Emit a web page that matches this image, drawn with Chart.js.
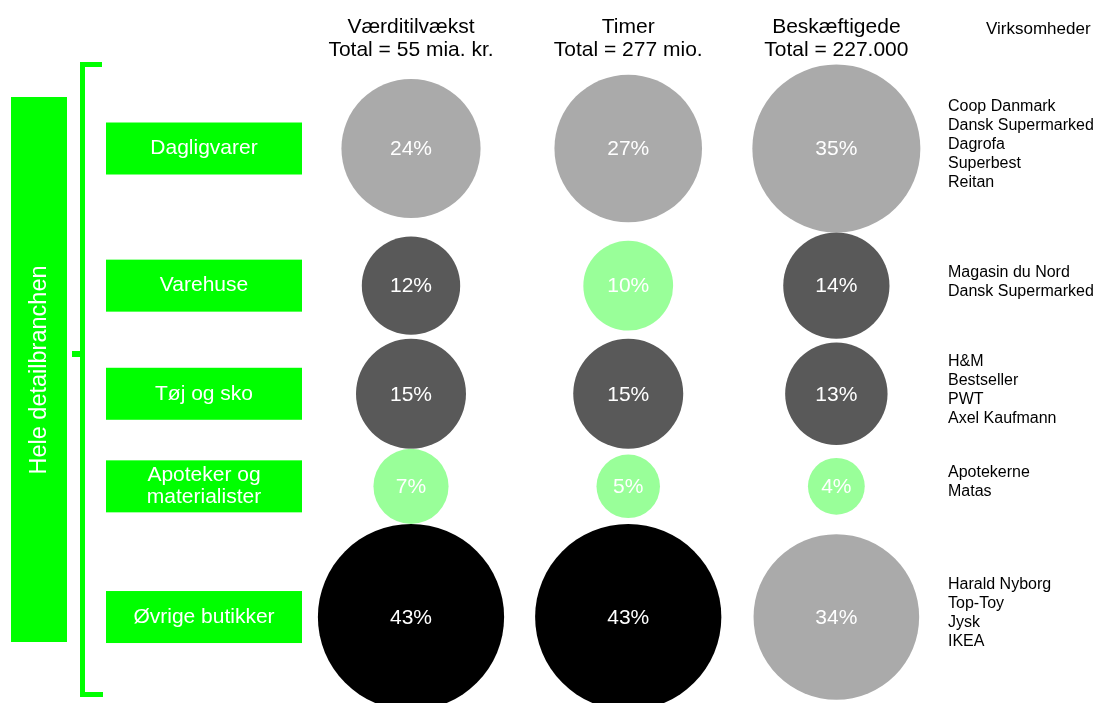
<!DOCTYPE html>
<html>
<head>
<meta charset="utf-8">
<script src="https://cdn.jsdelivr.net/npm/chart.js@4.4.1/dist/chart.umd.min.js"></script>
<style>
  html, body { margin: 0; padding: 0; background: #fff; }
  #wrap { width: 1096px; height: 703px; }
</style>
</head>
<body>
<div id="wrap"><canvas id="bubbles" width="1096" height="703"></canvas></div>
<script>
// rows: retail segments, columns: measures
const segments = ['Dagligvarer', 'Varehuse', 'Tøj og sko', 'Apoteker og\nmaterialister', 'Øvrige butikker'];
const measures = ['Værditilvækst', 'Timer', 'Beskæftigede'];
const measureTotals = ['Total = 55 mia. kr.', 'Total = 277 mio.', 'Total = 227.000'];

// share of the whole retail sector, in percent
const vaerditilvaekst = [24, 12, 15, 7, 43];
const timer = [27, 10, 15, 5, 43];
const beskaeftigede = [35, 14, 13, 4, 34];

// shade group of each bubble
const shadesVaerdi = ['light', 'dark', 'dark', 'green', 'black'];
const shadesTimer = ['light', 'green', 'dark', 'green', 'black'];
const shadesBeskaef = ['light', 'dark', 'dark', 'green', 'light'];

const companies = [
  ['Coop Danmark', 'Dansk Supermarked', 'Dagrofa', 'Superbest', 'Reitan'],
  ['Magasin du Nord', 'Dansk Supermarked'],
  ['H&M', 'Bestseller', 'PWT', 'Axel Kaufmann'],
  ['Apotekerne', 'Matas'],
  ['Harald Nyborg', 'Top-Toy', 'Jysk', 'IKEA']
];
const groupLabel = 'Hele detailbranchen';
const companyHeader = 'Virksomheder';

// ---- styling ----
const SHADE = { light: '#aaaaaa', dark: '#595959', green: '#99ff99', black: '#000000' };
const GREEN = '#00ff00';
const FONT = 'Arial, "Liberation Sans", sans-serif';
const K = 14.2; // radius px per sqrt(percent), so area follows the share

const series = [vaerditilvaekst, timer, beskaeftigede];
const shades = [shadesVaerdi, shadesTimer, shadesBeskaef];
const radius = v => K * Math.sqrt(v);

// rows are stacked so the biggest bubbles of neighbouring rows just touch
const rowMax = segments.map((_, i) => Math.max(...series.map(s => radius(s[i]))));
const rowY = [];
let rowTop = 64.5;
rowMax.forEach(r => { rowY.push(rowTop + r); rowTop += 2 * r; });

// columns likewise, with a fixed gap between them
const colMax = series.map(s => Math.max(...s.map(radius)));
const colX = [];
let colLeft = 411 - colMax[0];
colMax.forEach(r => { colX.push(colLeft + r); colLeft += 2 * r + 31; });

const datasets = series.map((values, c) => ({
  label: measures[c],
  data: values.map((v, i) => ({ x: colX[c], y: rowY[i], r: radius(v), v: v })),
  backgroundColor: shades[c].map(s => SHADE[s]),
  hoverBackgroundColor: shades[c].map(s => SHADE[s]),
  borderWidth: 0,
  hoverBorderWidth: 0,
  hoverRadius: 0,
  clip: false
}));

const decor = {
  id: 'decor',
  beforeDatasetsDraw(chart) {
    const ctx = chart.ctx;
    const xs = chart.scales.x, ys = chart.scales.y;
    ctx.save();
    ctx.fillStyle = GREEN;

    // vertical box for the whole sector
    ctx.fillRect(11, 97, 56, 545);
    ctx.save();
    ctx.translate(40, 370);
    ctx.rotate(-Math.PI / 2);
    ctx.fillStyle = '#ffffff';
    ctx.font = '23.5px ' + FONT;
    ctx.textAlign = 'center';
    ctx.textBaseline = 'middle';
    ctx.fillText(groupLabel, 0, 0);
    ctx.restore();

    // bracket
    ctx.fillRect(80, 62, 5, 635);
    ctx.fillRect(80, 62, 22, 5);
    ctx.fillRect(80, 692, 23, 5);
    ctx.fillRect(72, 351, 8, 6);

    // segment boxes
    ctx.font = '21px ' + FONT;
    ctx.textAlign = 'center';
    ctx.textBaseline = 'middle';
    segments.forEach((name, i) => {
      const cy = ys.getPixelForValue(rowY[i]);
      ctx.fillStyle = GREEN;
      ctx.fillRect(106, cy - 26, 196, 52);
      ctx.fillStyle = '#ffffff';
      const lines = name.split('\n');
      lines.forEach((ln, j) => {
        ctx.fillText(ln, 204, cy + (j - (lines.length - 1) / 2) * 22);
      });
    });

    // column headers
    ctx.fillStyle = '#000000';
    measures.forEach((m, c) => {
      const cx = xs.getPixelForValue(colX[c]);
      ctx.fillText(m, cx, 27);
      ctx.fillText(measureTotals[c], cx, 50);
    });
    ctx.font = '17px ' + FONT;
    ctx.textAlign = 'left';
    ctx.fillText(companyHeader, 986, 29);

    // company lists
    ctx.font = '16px ' + FONT;
    companies.forEach((list, i) => {
      const cy = ys.getPixelForValue(rowY[i]) - 4;
      list.forEach((name, j) => {
        ctx.fillText(name, 948, cy + (j - (list.length - 1) / 2) * 19);
      });
    });
    ctx.restore();
  },
  afterDatasetsDraw(chart) {
    const ctx = chart.ctx;
    ctx.save();
    ctx.fillStyle = '#ffffff';
    ctx.font = '21px ' + FONT;
    ctx.textAlign = 'center';
    ctx.textBaseline = 'middle';
    chart.data.datasets.forEach((ds, c) => {
      chart.getDatasetMeta(c).data.forEach((pt, i) => {
        ctx.fillText(ds.data[i].v + '%', pt.x, pt.y + 1);
      });
    });
    ctx.restore();
  }
};

new Chart(document.getElementById('bubbles'), {
  type: 'bubble',
  data: { datasets: datasets },
  options: {
    responsive: false,
    animation: false,
    layout: { padding: 0, autoPadding: false },
    events: [],
    plugins: {
      legend: { display: false },
      tooltip: { enabled: false }
    },
    scales: {
      x: { type: 'linear', display: false, min: 0, max: 1096 },
      y: { type: 'linear', display: false, min: 0, max: 703, reverse: true }
    }
  },
  plugins: [decor]
});
</script>
</body>
</html>
